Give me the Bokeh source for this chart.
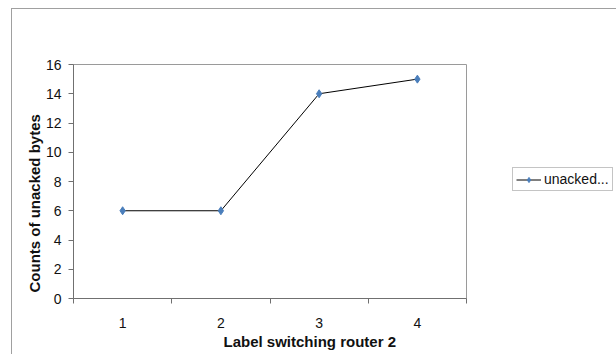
from bokeh.plotting import figure
from bokeh.models import (Range1d, FixedTicker, Legend, LegendItem, Title,
                          ColumnDataSource)
from bokeh.embed import file_html
from bokeh.resources import INLINE

categories = ["1", "2", "3", "4"]
x_positions = [1, 2, 3, 4]
unacked = [6, 6, 14, 15]
y_ticks = [0, 2, 4, 6, 8, 10, 12, 14, 16]
series_name = "unacked..."
x_title = "Label switching router 2"
y_title = "Counts of unacked bytes"

FONT = "Liberation Sans"

p = figure(frame_width=393, frame_height=234, output_backend="svg",
           toolbar_location=None,
           x_range=Range1d(0.5, 4.5), y_range=Range1d(0, 16),
           min_border_left=61, min_border_right=148, min_border_top=55,
           min_border_bottom=56)
p.styles = {"position": "relative", "left": "12px", "top": "9px",
            "outline": "1px solid #a0a0a0"}
p.xgrid.visible = False
p.ygrid.visible = False
p.outline_line_color = "#9a9a9a"
p.outline_line_width = 1
p.background_fill_color = "white"
p.border_fill_color = "white"

# x axis: labels at category centres, ticks at category boundaries
xa = p.xaxis[0]
xa.ticker = FixedTicker(ticks=x_positions,
                        minor_ticks=[0.5, 1.5, 2.5, 3.5, 4.5])
xa.major_label_overrides = {x: c for x, c in zip(x_positions, categories)}
xa.major_tick_out = 0
xa.major_tick_in = 0
xa.minor_tick_out = 5
xa.minor_tick_in = 0
xa.minor_tick_line_color = "#707070"
xa.axis_line_color = "#707070"
xa.major_label_standoff = 14
xa.major_label_text_font = FONT
xa.major_label_text_font_size = "14px"
xa.major_label_text_color = "#111111"

ya = p.yaxis[0]
ya.ticker = FixedTicker(ticks=y_ticks, minor_ticks=[])
ya.major_tick_out = 5
ya.major_tick_in = 0
ya.major_tick_line_color = "#707070"
ya.axis_line_color = "#707070"
ya.major_label_standoff = 7
ya.major_label_text_font = FONT
ya.major_label_text_font_size = "14px"
ya.major_label_text_color = "#111111"

src = ColumnDataSource(dict(x=x_positions, y=unacked))
ln = p.line("x", "y", source=src, line_color="#000000", line_width=1)
mk = p.scatter("x", "y", source=src, marker="diamond", size=8,
               fill_color="#4a7ebb", line_color="#4a7ebb")

legend = Legend(items=[LegendItem(label=series_name, renderers=[ln, mk])],
                location=(46, 107), orientation="vertical",
                padding=3, spacing=0, margin=0,
                glyph_width=25, glyph_height=13, label_height=13,
                label_standoff=3,
                label_text_font=FONT, label_text_font_size="14px",
                label_text_color="#111111",
                border_line_color="#8a8a8a", border_line_width=1,
                background_fill_color="white", background_fill_alpha=1)
p.add_layout(legend, "right")

# axis titles
p.add_layout(Title(text=x_title, align="left", offset=150,
                   text_font=FONT, text_font_size="15px",
                   text_font_style="bold", text_color="#111111",
                   standoff=0), "below")
p.add_layout(Title(text=y_title, align="left", offset=6,
                   text_font=FONT, text_font_size="15px",
                   text_font_style="bold", text_color="#111111",
                   standoff=0), "left")

open("out.html", "w").write(file_html(p, INLINE))
